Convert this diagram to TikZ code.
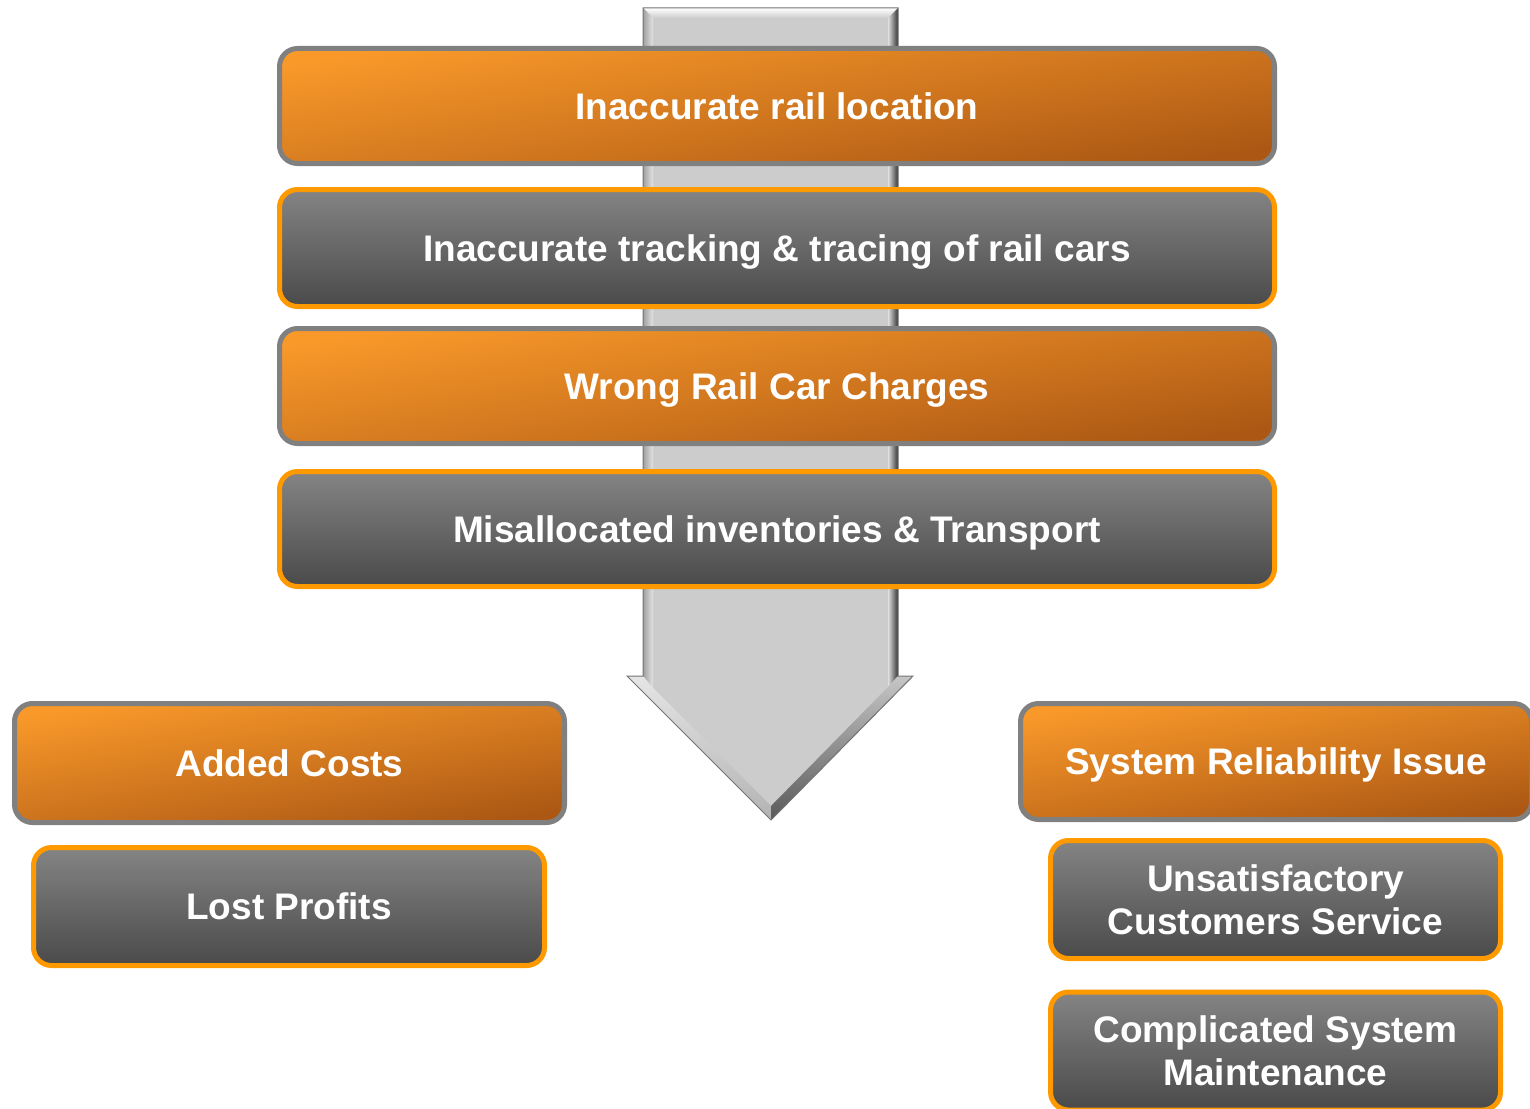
\documentclass[tikz,border=0pt]{standalone}
\usepackage{fontspec}
\setmainfont{Liberation Sans}
\usetikzlibrary{positioning}

\definecolor{railorange}{RGB}{255,153,0}
\definecolor{orangetop}{RGB}{249,153,42}
\definecolor{orangebot}{RGB}{172,88,20}
\definecolor{greytop}{RGB}{132,132,132}
\definecolor{greybot}{RGB}{74,74,74}
\definecolor{rimgrey}{RGB}{128,128,128}
\definecolor{shaftgrey}{RGB}{204,204,204}

\tikzset{
  box/.style={rounded corners=18pt, line width=5pt, align=center, text=white,
    inner sep=0pt, font=\fontsize{37}{43}\selectfont\bfseries},
  oneline/.style={text height=26.6pt, text depth=0pt},
  orangebox/.style={box, oneline, draw=rimgrey, top color=orangetop,
    bottom color=orangebot, shading angle=9},
  greybox/.style={box, draw=railorange, top color=greytop, bottom color=greybot},
}

\begin{document}
\begin{tikzpicture}[x=1pt,y=-1pt]
\useasboundingbox (0,0) rectangle (1530,1108);

% big arrow behind the boxes
\fill[shaftgrey] (643,8) -- (898,8) -- (898,676) -- (913,676) -- (771,820)
  -- (627,676) -- (643,676) -- cycle;
% bevel
\shade[top color=white, bottom color=gray!40] (643,8) -- (898,8) -- (888,18) -- (653,18) -- cycle;
\shade[left color=gray!75, right color=gray!22] (643,8) -- (653,18) -- (653,688) -- (643,676) -- cycle;
\shade[left color=gray!25, right color=black!80] (898,8) -- (888,18) -- (888,687) -- (898,676) -- cycle;
\shade[top color=gray!20, bottom color=gray!60] (627,676) -- (643,676) -- (653,688) -- (771,806) -- (771,820) -- cycle;
\shade[top color=gray!45, bottom color=black!65] (913,676) -- (898,676) -- (888,687) -- (771,806) -- (771,820) -- cycle;
\draw[black!55, line width=1pt] (643,8) -- (898,8) -- (898,676) -- (913,676) -- (771,820)
  -- (627,676) -- (643,676) -- cycle;

% chain of causes
\node[orangebox, minimum width=995pt, minimum height=115pt] (location) at (777,106) {Inaccurate rail location};
\node[greybox, oneline, minimum width=995pt, minimum height=117pt] (tracking) at (777,248) {Inaccurate tracking \& tracing of rail cars};
\node[orangebox, minimum width=995pt, minimum height=115pt] (charges) at (777,386) {Wrong Rail Car Charges};
\node[greybox, oneline, minimum width=995pt, minimum height=115pt] (misalloc) at (777,529) {Misallocated inventories \& Transport};

% effects, left
\node[orangebox, minimum width=550pt, minimum height=119pt] (costs) at (289.5,763) {Added Costs};
\node[greybox, oneline, minimum width=511pt, minimum height=118pt] (profits) at (289,906.5) {Lost Profits};

% effects, right
\node[orangebox, minimum width=511pt, minimum height=116pt] (reliab) at (1276,761.5) {System Reliability Issue};
\node[greybox, minimum width=450pt, minimum height=118pt] (service) at (1275.5,899.5) {Unsatisfactory\\Customers Service};
\node[greybox, minimum width=450pt, minimum height=118pt] (maint) at (1275.5,1051) {Complicated System\\Maintenance};
\end{tikzpicture}
\end{document}
